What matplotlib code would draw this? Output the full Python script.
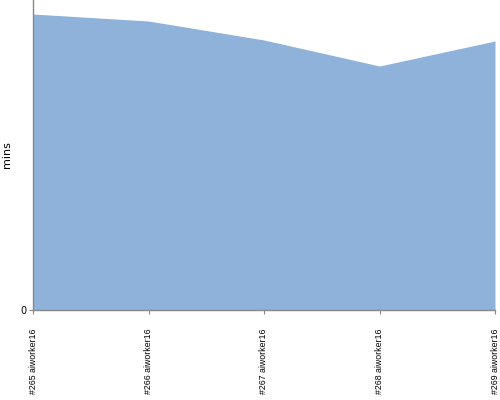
import matplotlib
matplotlib.use("Agg")
import matplotlib.pyplot as plt

# data (arbitrary scale, only 0 is labelled)
builds = ["#265 aiworker16", "#266 aiworker16", "#267 aiworker16",
          "#268 aiworker16", "#269 aiworker16"]
mins = [296, 289, 270, 244, 269]

fig = plt.figure(figsize=(5, 4), dpi=100)
ax = fig.add_axes([0.066, 0.225, 0.924, 0.775])

x = list(range(len(builds)))
ax.fill_between(x, mins, 0, color="#8fb2da", lw=0)

ax.set_xlim(0, len(builds) - 1)
ax.set_ylim(0, 310)
ax.set_yticks([0])
ax.set_yticklabels(["0"], fontsize=7)
ax.set_xticks(x)
ax.set_xticklabels(builds, rotation=90, fontsize=6.3, va="top",
                   family="Liberation Sans")
ax.tick_params(axis="both", length=3, color="#888888")
ax.tick_params(axis="x", pad=10)
ax.tick_params(axis="y", pad=2)
ax.set_ylabel("mins", fontsize=8, labelpad=6)

for s in ["top", "right"]:
    ax.spines[s].set_visible(False)
for s in ["left", "bottom"]:
    ax.spines[s].set_color("#888888")
    ax.spines[s].set_linewidth(1)

fig.savefig("out.png", dpi=100)
